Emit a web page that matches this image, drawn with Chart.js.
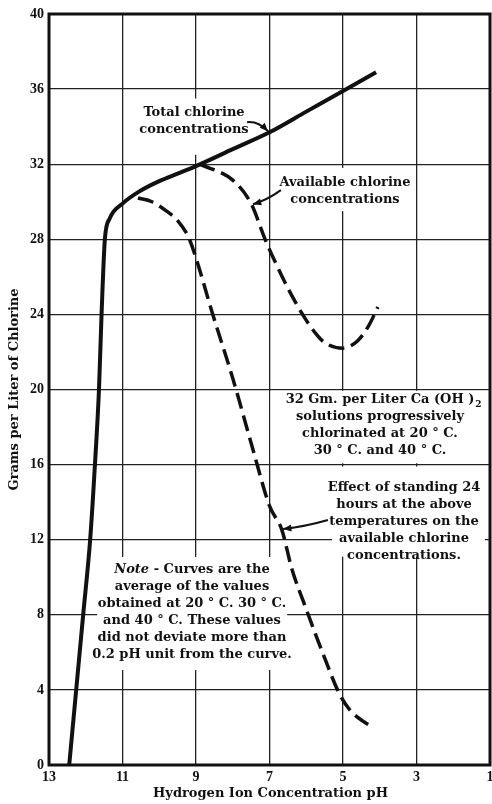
<!DOCTYPE html>
<html>
<head>
<meta charset="utf-8">
<script src="https://cdn.jsdelivr.net/npm/chart.js@4/dist/chart.umd.min.js"></script>
<style>
  html, body { margin: 0; padding: 0; background: #fff; }
  #wrap { width: 492px; height: 804px; }
</style>
</head>
<body>
<div id="wrap"><canvas id="chlorine"></canvas></div>
<script>
// pH ticks run backwards (13 on the left down to 1)
const xTicks = [13, 11, 9, 7, 5, 3, 1];
const yTicks = [0, 4, 8, 12, 16, 20, 24, 28, 32, 36, 40];

// total chlorine (solid)
const totalPH = [12.45, 12.07, 11.88, 11.75, 11.64, 11.57, 11.48, 11.35, 11.0, 10.5, 10.0, 9.5, 9.0, 8.0, 7.0, 6.0, 5.0, 4.1];
const totalCl = [0, 8, 12, 16, 20, 24, 28, 29.1, 29.9, 30.6, 31.1, 31.5, 31.9, 32.8, 33.7, 34.8, 35.9, 36.9];

// available chlorine (dashed, upper branch)
const availPH = [8.9, 8.0, 7.5, 7.12, 6.8, 6.5, 6.1, 5.75, 5.5, 5.0, 4.6, 4.3, 4.05];
const availCl = [32.0, 31.15, 29.9, 28.0, 26.6, 25.4, 24.0, 23.0, 22.5, 22.2, 22.6, 23.4, 24.4];

// after standing 24 hours (dashed, lower branch)
const standPH = [10.58, 10.2, 9.8, 9.5, 9.2, 9.0, 8.56, 8.0, 7.45, 7.0, 6.66, 6.4, 6.0, 5.5, 5.1, 4.8, 4.2];
const standCl = [30.2, 30.0, 29.5, 29.0, 28.1, 27.0, 24.1, 20.6, 16.8, 13.8, 12.5, 10.5, 8.3, 5.7, 3.8, 2.9, 2.0];

const pts = (xs, ys) => xs.map((x, i) => ({ x: x, y: ys[i] }));

const ink = '#111';
const serif = '"DejaVu Serif", "Liberation Serif", serif';
const tickSerif = '"Liberation Serif", serif';

// white patches (data units) that hide grid lines behind the notes
const patches = [
  { x1: 10.62, x2: 7.5, y1: 35.5, y2: 32.5 },
  { x1: 6.78, x2: 3.1, y1: 31.8, y2: 29.5 },
  { x1: 6.97, x2: 1.03, y1: 19.93, y2: 16.07 },
  { x1: 5.3, x2: 1.14, y1: 15.9, y2: 11.1 },
  { x1: 11.69, x2: 6.52, y1: 11.08, y2: 5.06 }
];

const notes = [
  { x: 194, y: 113, lines: ['Total chlorine', 'concentrations'] },
  { x: 345, y: 183, lines: ['Available chlorine', 'concentrations'] },
  { x: 380, y: 400, lines: ['32 Gm. per Liter Ca (OH )', 'solutions progressively', 'chlorinated at 20 \u00b0 C.', '30 \u00b0 C. and 40 \u00b0 C.'] },
  { x: 404, y: 488, lines: ['Effect of standing 24', 'hours at the above', 'temperatures on the', 'available chlorine', 'concentrations.'] },
  { x: 192, y: 570, lines: ['Note - Curves are the', 'average of the values', 'obtained at 20 \u00b0 C. 30 \u00b0 C.', 'and 40 \u00b0 C. These values', 'did not deviate more than', '0.2 pH unit from the curve.'] }
];

// pointers from a note to its curve, in data units
const arrows = [
  { from: [7.61, 34.24], to: [7.04, 33.76], bend: -6 },
  { from: [6.69, 30.62], to: [7.45, 29.87], bend: 3 },
  { from: [5.41, 13.05], to: [6.63, 12.57], bend: 2 }
];

const noteFont = 'bold 13px ' + serif;

const notesPlugin = {
  id: 'notes',
  beforeDatasetsDraw(chart) {
    const { ctx, scales: { x, y } } = chart;
    ctx.save();
    ctx.fillStyle = '#fff';
    patches.forEach(p => {
      const l = x.getPixelForValue(p.x1), r = x.getPixelForValue(p.x2);
      const t = y.getPixelForValue(p.y1), b = y.getPixelForValue(p.y2);
      ctx.fillRect(l, t, r - l, b - t);
    });
    ctx.restore();
  },
  afterDatasetsDraw(chart) {
    const { ctx, chartArea: a, scales: { x, y } } = chart;
    ctx.save();
    // heavy frame
    ctx.strokeStyle = ink;
    ctx.lineWidth = 3;
    ctx.strokeRect(a.left, a.top, a.right - a.left, a.bottom - a.top);

    ctx.fillStyle = ink;
    ctx.textBaseline = 'middle';
    notes.forEach(n => {
      n.lines.forEach((s, i) => {
        const ly = n.y + i * 17;
        if (s.startsWith('Note')) {
          ctx.font = 'italic ' + noteFont;
          const w1 = ctx.measureText('Note').width;
          ctx.font = noteFont;
          const rest = s.slice(4);
          const w2 = ctx.measureText(rest).width;
          const x0 = n.x - (w1 + w2) / 2;
          ctx.textAlign = 'left';
          ctx.font = 'italic ' + noteFont;
          ctx.fillText('Note', x0, ly);
          ctx.font = noteFont;
          ctx.fillText(rest, x0 + w1, ly);
        } else {
          ctx.textAlign = 'center';
          ctx.font = noteFont;
          ctx.fillText(s, n.x, ly);
          if (s.endsWith('(OH )')) {
            // subscript 2 of Ca(OH)2
            const w = ctx.measureText(s).width;
            ctx.textAlign = 'left';
            ctx.font = 'bold 9px ' + serif;
            ctx.fillText('2', n.x + w / 2 + 1, ly + 5);
          }
        }
      });
    });

    // arrows
    ctx.lineWidth = 2;
    arrows.forEach(ar => {
      const x1 = x.getPixelForValue(ar.from[0]), y1 = y.getPixelForValue(ar.from[1]);
      const x2 = x.getPixelForValue(ar.to[0]), y2 = y.getPixelForValue(ar.to[1]);
      const mx = (x1 + x2) / 2, my = (y1 + y2) / 2 + ar.bend;
      ctx.beginPath();
      ctx.moveTo(x1, y1);
      ctx.quadraticCurveTo(mx, my, x2, y2);
      ctx.stroke();
      const ang = Math.atan2(y2 - my, x2 - mx);
      ctx.beginPath();
      ctx.moveTo(x2, y2);
      ctx.lineTo(x2 - 9 * Math.cos(ang - 0.4), y2 - 9 * Math.sin(ang - 0.4));
      ctx.lineTo(x2 - 9 * Math.cos(ang + 0.4), y2 - 9 * Math.sin(ang + 0.4));
      ctx.closePath();
      ctx.fill();
    });

    // axis titles
    ctx.textAlign = 'center';
    ctx.font = 'bold 13px ' + serif;
    ctx.fillText('Hydrogen Ion Concentration pH', (a.left + a.right) / 2 + 1, 794);
    ctx.translate(15, (a.top + a.bottom) / 2);
    ctx.rotate(-Math.PI / 2);
    ctx.font = 'bold 13px ' + serif;
    ctx.fillText('Grams per Liter of Chlorine', 0, 0);
    ctx.restore();
  }
};

const lineStyle = {
  showLine: true,
  pointRadius: 0,
  borderColor: ink,
  cubicInterpolationMode: 'monotone',
  fill: false
};

new Chart(document.getElementById('chlorine'), {
  type: 'scatter',
  data: {
    datasets: [
      Object.assign({ label: 'Total chlorine', data: pts(totalPH, totalCl), borderWidth: 4 }, lineStyle),
      Object.assign({ label: 'Available chlorine', data: pts(availPH, availCl), borderWidth: 3.5, borderDash: [16, 7] }, lineStyle),
      Object.assign({ label: 'After 24 hours', data: pts(standPH, standCl), borderWidth: 3.5, borderDash: [16, 7] }, lineStyle)
    ]
  },
  options: {
    responsive: true,
    maintainAspectRatio: false,
    animation: false,
    layout: { padding: { top: 14, right: 2, left: 0, bottom: 0 } },
    plugins: { legend: { display: false }, tooltip: { enabled: false } },
    scales: {
      x: {
        type: 'linear',
        reverse: true,
        min: 1,
        max: 13,
        afterBuildTicks: s => { s.ticks = xTicks.map(v => ({ value: v })); },
        afterFit: s => { s.height = 39; s.paddingLeft = 0; s.paddingRight = 0; },
        ticks: { color: ink, font: { family: tickSerif, size: 14, weight: 'bold' }, padding: 4, maxRotation: 0 },
        grid: { color: '#222', lineWidth: 1.3, drawTicks: false },
        border: { display: false }
      },
      y: {
        min: 0,
        max: 40,
        afterBuildTicks: s => { s.ticks = yTicks.map(v => ({ value: v })); },
        afterFit: s => { s.width = 49; s.paddingTop = 0; s.paddingBottom = 0; },
        ticks: { color: ink, font: { family: tickSerif, size: 14, weight: 'bold' }, padding: 5 },
        grid: { color: '#222', lineWidth: 1.3, drawTicks: false },
        border: { display: false }
      }
    }
  },
  plugins: [notesPlugin]
});
</script>
</body>
</html>
